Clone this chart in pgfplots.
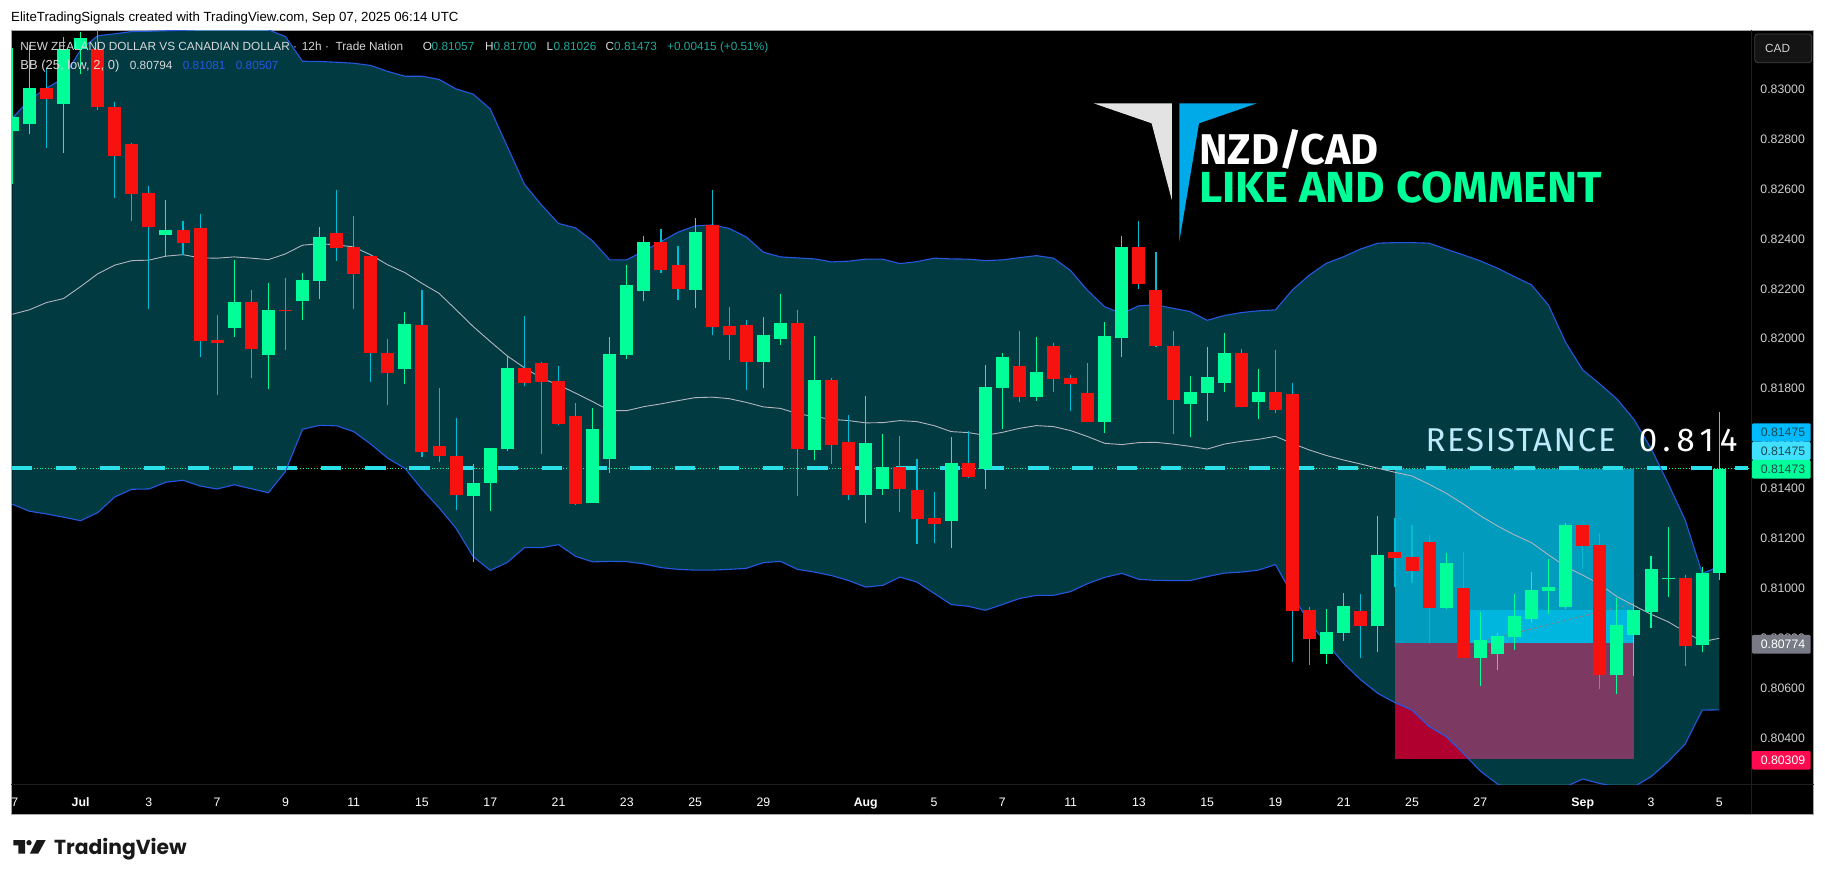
\documentclass[border=0pt]{standalone}
\usepackage{fontspec}
\setmainfont{Liberation Sans}
\newfontfamily\logofont{Fira Sans}
\newfontfamily\resfontA[LetterSpace=5]{Fira Sans}
\newfontfamily\resfontB[LetterSpace=18]{Fira Sans}
\newfontfamily\tvfont{Poppins}
\usepackage{pgfplots}
\usepackage{pgfplotstable}
\pgfplotsset{compat=1.18}
\definecolor{upc}{HTML}{00FF99}
\definecolor{downc}{HTML}{F7120F}
\definecolor{downw}{HTML}{00BCD4}
\definecolor{bandc}{RGB}{7,193,220}
\definecolor{bbline}{HTML}{2458E0}
\definecolor{midc}{HTML}{B2B5BE}
\definecolor{hdr}{HTML}{D8D8D8}
\definecolor{teal}{HTML}{1FA99B}
\definecolor{tick}{HTML}{D0D0D0}
\definecolor{zoneb}{HTML}{009BBD}
\definecolor{zonel}{HTML}{00B5DE}
\definecolor{zoner}{HTML}{B00030}
\definecolor{resl}{HTML}{2BDFE8}
\definecolor{tagd}{HTML}{174A50}
\definecolor{tagb}{HTML}{00BBFF}
\definecolor{tagc}{HTML}{40E0FF}
\definecolor{tagg}{HTML}{787B86}
\definecolor{tagr}{HTML}{FF0A4E}
\definecolor{lgb}{HTML}{00A9E8}
\pgfplotstableread{
k o h l c
0 0.82828 0.83158 0.82613 0.82883
1 0.82856 0.83172 0.82816 0.82999
3 0.82933 0.83205 0.82740 0.83154
4 0.83154 0.83222 0.83053 0.83200
9 0.82410 0.82550 0.82323 0.82430
13 0.82037 0.82310 0.82001 0.82142
15 0.81927 0.82216 0.81794 0.82110
17 0.82147 0.82257 0.82069 0.82230
18 0.82226 0.82441 0.82154 0.82402
23 0.81873 0.82102 0.81813 0.82053
27 0.81364 0.81492 0.81101 0.81416
28 0.81416 0.81556 0.81305 0.81556
29 0.81552 0.81925 0.81546 0.81877
34 0.81337 0.81717 0.81337 0.81633
35 0.81512 0.82001 0.81455 0.81933
36 0.81929 0.82290 0.81913 0.82210
37 0.82186 0.82406 0.82146 0.82382
40 0.82190 0.82478 0.82118 0.82422
44 0.81901 0.82081 0.81797 0.82009
45 0.81993 0.82174 0.81969 0.82057
47 0.81548 0.82005 0.81508 0.81829
50 0.81368 0.81765 0.81256 0.81576
51 0.81392 0.81613 0.81368 0.81480
55 0.81264 0.81599 0.81156 0.81496
57 0.81472 0.81889 0.81392 0.81801
58 0.81797 0.81937 0.81633 0.81921
60 0.81761 0.82001 0.81745 0.81861
64 0.81661 0.82061 0.81617 0.82005
65 0.81997 0.82406 0.81921 0.82362
69 0.81733 0.81845 0.81601 0.81781
70 0.81777 0.81961 0.81665 0.81841
71 0.81817 0.82017 0.81781 0.81937
73 0.81741 0.81873 0.81673 0.81781
77 0.80731 0.80911 0.80691 0.80819
78 0.80815 0.80975 0.80783 0.80923
80 0.80843 0.81284 0.80739 0.81128
84 0.80915 0.81136 0.80911 0.81096
86 0.80715 0.80899 0.80603 0.80787
87 0.80731 0.80815 0.80667 0.80803
88 0.80799 0.80971 0.80747 0.80883
89 0.80871 0.81059 0.80855 0.80987
90 0.80983 0.81112 0.80891 0.80999
91 0.80919 0.81256 0.80911 0.81248
94 0.80647 0.80955 0.80570 0.80847
95 0.80807 0.80934 0.80643 0.80907
96 0.80899 0.81124 0.80835 0.81071
97 0.81031 0.81240 0.80959 0.81035
99 0.80767 0.81080 0.80739 0.81055
100 0.81057 0.81700 0.81026 0.81473
}\upcandles
\pgfplotstableread{
k o h l c
2 0.82999 0.83078 0.82760 0.82953
5 0.83154 0.83230 0.82911 0.82921
6 0.82923 0.82942 0.82560 0.82728
7 0.82775 0.82778 0.82464 0.82576
8 0.82577 0.82607 0.82114 0.82440
10 0.82430 0.82466 0.82330 0.82378
11 0.82438 0.82494 0.81919 0.81985
12 0.81989 0.82090 0.81770 0.81977
14 0.82142 0.82190 0.81837 0.81951
16 0.82110 0.82238 0.81947 0.82106
19 0.82418 0.82591 0.82306 0.82358
20 0.82362 0.82486 0.82114 0.82254
21 0.82326 0.82326 0.81821 0.81935
22 0.81937 0.81993 0.81729 0.81858
24 0.82049 0.82190 0.81522 0.81542
25 0.81564 0.81797 0.81502 0.81526
26 0.81524 0.81677 0.81308 0.81368
30 0.81877 0.82086 0.81805 0.81818
31 0.81897 0.81901 0.81532 0.81822
32 0.81825 0.81885 0.81650 0.81654
33 0.81685 0.81737 0.81328 0.81333
38 0.82382 0.82434 0.82258 0.82270
39 0.82290 0.82366 0.82150 0.82194
41 0.82450 0.82591 0.82009 0.82041
42 0.82045 0.82122 0.81909 0.82009
43 0.82049 0.82069 0.81789 0.81901
46 0.82057 0.82110 0.81364 0.81552
48 0.81829 0.81837 0.81492 0.81568
49 0.81580 0.81689 0.81348 0.81368
52 0.81480 0.81605 0.81300 0.81392
53 0.81388 0.81512 0.81172 0.81272
54 0.81276 0.81380 0.81176 0.81252
56 0.81496 0.81625 0.81436 0.81440
59 0.81885 0.82025 0.81741 0.81761
61 0.81965 0.81977 0.81781 0.81833
62 0.81837 0.81849 0.81705 0.81813
63 0.81777 0.81897 0.81661 0.81661
66 0.82362 0.82466 0.82194 0.82214
67 0.82190 0.82342 0.81961 0.81965
68 0.81965 0.82025 0.81613 0.81749
72 0.81937 0.81953 0.81721 0.81721
74 0.81781 0.81949 0.81697 0.81709
75 0.81773 0.81817 0.80700 0.80903
76 0.80907 0.80919 0.80687 0.80791
79 0.80903 0.80971 0.80715 0.80843
81 0.81140 0.81276 0.80999 0.81116
82 0.81120 0.81248 0.81015 0.81063
83 0.81180 0.81208 0.80775 0.80917
85 0.80995 0.81140 0.80716 0.80716
92 0.81248 0.81252 0.81071 0.81164
93 0.81168 0.81216 0.80591 0.80647
98 0.81035 0.81047 0.80683 0.80763
}\downcandles
\pgfplotstableread{
k up mid lo
0 0.82878 0.82092 0.81331
1 0.82951 0.82110 0.81303
2 0.82998 0.82139 0.81292
3 0.83038 0.82155 0.81279
4 0.83152 0.82203 0.81265
5 0.83208 0.82254 0.81297
6 0.83216 0.82289 0.81360
7 0.83225 0.82307 0.81391
8 0.83226 0.82309 0.81392
9 0.83228 0.82325 0.81419
10 0.83230 0.82331 0.81427
11 0.83232 0.82318 0.81404
12 0.83232 0.82317 0.81392
13 0.83232 0.82322 0.81409
14 0.83232 0.82317 0.81393
15 0.83232 0.82311 0.81377
16 0.83205 0.82334 0.81462
17 0.83106 0.82369 0.81631
18 0.83105 0.82375 0.81647
19 0.83102 0.82370 0.81645
20 0.83098 0.82362 0.81622
21 0.83089 0.82330 0.81572
22 0.83065 0.82290 0.81515
23 0.83046 0.82259 0.81475
24 0.83046 0.82216 0.81391
25 0.83033 0.82176 0.81317
26 0.82995 0.82110 0.81234
27 0.82974 0.82043 0.81121
28 0.82915 0.81983 0.81066
29 0.82764 0.81925 0.81098
30 0.82613 0.81878 0.81157
31 0.82530 0.81836 0.81157
32 0.82456 0.81809 0.81169
33 0.82438 0.81776 0.81122
34 0.82386 0.81742 0.81100
35 0.82310 0.81706 0.81102
36 0.82310 0.81706 0.81101
37 0.82346 0.81722 0.81092
38 0.82383 0.81733 0.81077
39 0.82421 0.81746 0.81070
40 0.82446 0.81758 0.81067
41 0.82450 0.81760 0.81067
42 0.82436 0.81754 0.81070
43 0.82402 0.81739 0.81074
44 0.82341 0.81721 0.81097
45 0.82322 0.81715 0.81102
46 0.82318 0.81694 0.81070
47 0.82314 0.81682 0.81059
48 0.82302 0.81671 0.81045
49 0.82305 0.81666 0.81025
50 0.82313 0.81657 0.80999
51 0.82313 0.81658 0.81006
52 0.82295 0.81666 0.81039
53 0.82303 0.81662 0.81019
54 0.82317 0.81646 0.80974
55 0.82314 0.81622 0.80929
56 0.82313 0.81618 0.80922
57 0.82307 0.81607 0.80906
58 0.82310 0.81619 0.80929
59 0.82319 0.81635 0.80953
60 0.82327 0.81646 0.80966
61 0.82317 0.81642 0.80966
62 0.82267 0.81626 0.80981
63 0.82187 0.81602 0.81013
64 0.82122 0.81575 0.81038
65 0.82095 0.81570 0.81054
66 0.82126 0.81578 0.81030
67 0.82130 0.81579 0.81026
68 0.82116 0.81572 0.81025
69 0.82103 0.81563 0.81025
70 0.82068 0.81552 0.81041
71 0.82087 0.81572 0.81055
72 0.82099 0.81583 0.81059
73 0.82106 0.81591 0.81067
74 0.82110 0.81603 0.81089
75 0.82190 0.81574 0.80967
76 0.82250 0.81548 0.80854
77 0.82297 0.81526 0.80774
78 0.82323 0.81508 0.80693
79 0.82354 0.81492 0.80627
80 0.82377 0.81475 0.80573
81 0.82379 0.81459 0.80536
82 0.82379 0.81444 0.80506
83 0.82377 0.81411 0.80440
84 0.82353 0.81375 0.80400
85 0.82330 0.81332 0.80333
86 0.82306 0.81285 0.80262
87 0.82277 0.81244 0.80210
88 0.82243 0.81208 0.80179
89 0.82210 0.81177 0.80159
90 0.82128 0.81128 0.80152
91 0.81979 0.81081 0.80199
92 0.81869 0.81047 0.80230
93 0.81813 0.81010 0.80212
94 0.81753 0.80961 0.80199
95 0.81671 0.80925 0.80199
96 0.81555 0.80890 0.80239
97 0.81415 0.80860 0.80299
98 0.81268 0.80820 0.80370
99 0.81054 0.80780 0.80506
100 0.81081 0.80794 0.80507
}\bbands
\newcommand{\txt}[5]{\node[anchor=base west,inner sep=0pt,text=#1,font=\fontsize{#2}{#2}\selectfont] at (#3,881-#4) {#5};}
\newcommand{\tagbox}[5]{\fill[#1,rounded corners=1.2pt] (1752,881-#2) rectangle (1810.6,881-#3);
 \node[text=#4,inner sep=0pt,font=\fontsize{12.3}{13}\selectfont] at (1783,881-0.5*#2-0.5*#3) {#5};}
\begin{document}
\begin{tikzpicture}[x=1pt,y=1pt]
\fill[white] (0,0) rectangle (1825,881);
\fill[black] (11,67) rectangle (1813.8,851);
\draw[line width=0.9pt,color=black!35] (11,67) rectangle (1813.8,851);
\draw[line width=0.7pt,color=black!88!white] (1751.2,67) -- (1751.2,851);
\draw[line width=0.7pt,color=black!88!white] (11,97) -- (1813.8,97);
\begin{axis}[
  at={(11.5pt,97pt)},anchor=south west,
  width=1739.7pt,height=753.7pt,scale only axis,
  xmin=-0.047,xmax=101.87,ymin=0.80210,ymax=0.83230,
  axis line style={draw=none},
  tick style={draw=none},major tick length=0pt,
  scaled y ticks=false,
  ytick={0.804,0.806,0.808,0.810,0.812,0.814,0.816,0.818,0.820,0.822,0.824,0.826,0.828,0.830},
  yticklabel pos=right,
  yticklabel style={/pgf/number format/fixed,/pgf/number format/zerofill,/pgf/number format/precision=5,/pgf/number format/assume math mode=true,text=tick,font=\fontsize{12.3}{13}\selectfont,inner sep=0pt,xshift=9pt,yshift=-1.5pt},
  xtick={0.14,4,8,12,16,20,24,28,32,36,40,44,50,54,58,62,66,70,74,78,82,86,92,96,100},
  xticklabels={7,\textbf{Jul},3,7,9,11,15,17,21,23,25,29,\textbf{Aug},5,7,11,13,15,19,21,25,27,\textbf{Sep},3,5},
  xticklabel style={text=white,font=\fontsize{12.3}{13}\selectfont,inner sep=0pt,yshift=-13.5pt},
]
\addplot[fill=zoner,draw=none,forget plot] coordinates {(81,0.80774)(95.03,0.80774)(95.03,0.80309)(81,0.80309)} --cycle;
\addplot[fill=bandc,fill opacity=0.3,draw=none,forget plot] coordinates {
(0,0.82878)(1,0.82951)(2,0.82998)(3,0.83038)(4,0.83152)(5,0.83208)(6,0.83216)(7,0.83225)(8,0.83226)(9,0.83228)
(10,0.83230)(11,0.83232)(12,0.83232)(13,0.83232)(14,0.83232)(15,0.83232)(16,0.83205)(17,0.83106)(18,0.83105)(19,0.83102)
(20,0.83098)(21,0.83089)(22,0.83065)(23,0.83046)(24,0.83046)(25,0.83033)(26,0.82995)(27,0.82974)(28,0.82915)(29,0.82764)
(30,0.82613)(31,0.82530)(32,0.82456)(33,0.82438)(34,0.82386)(35,0.82310)(36,0.82310)(37,0.82346)(38,0.82383)(39,0.82421)
(40,0.82446)(41,0.82450)(42,0.82436)(43,0.82402)(44,0.82341)(45,0.82322)(46,0.82318)(47,0.82314)(48,0.82302)(49,0.82305)
(50,0.82313)(51,0.82313)(52,0.82295)(53,0.82303)(54,0.82317)(55,0.82314)(56,0.82313)(57,0.82307)(58,0.82310)(59,0.82319)
(60,0.82327)(61,0.82317)(62,0.82267)(63,0.82187)(64,0.82122)(65,0.82095)(66,0.82126)(67,0.82130)(68,0.82116)(69,0.82103)
(70,0.82068)(71,0.82087)(72,0.82099)(73,0.82106)(74,0.82110)(75,0.82190)(76,0.82250)(77,0.82297)(78,0.82323)(79,0.82354)
(80,0.82377)(81,0.82379)(82,0.82379)(83,0.82377)(84,0.82353)(85,0.82330)(86,0.82306)(87,0.82277)(88,0.82243)(89,0.82210)
(90,0.82128)(91,0.81979)(92,0.81869)(93,0.81813)(94,0.81753)(95,0.81671)(96,0.81555)(97,0.81415)(98,0.81268)(99,0.81054)(100,0.81081)
(100,0.80507)(99,0.80506)(98,0.80370)(97,0.80299)(96,0.80239)(95,0.80199)(94,0.80199)(93,0.80212)(92,0.80230)(91,0.80199)
(90,0.80152)(89,0.80159)(88,0.80179)(87,0.80210)(86,0.80262)(85,0.80333)(84,0.80400)(83,0.80440)(82,0.80506)(81,0.80536)
(80,0.80573)(79,0.80627)(78,0.80693)(77,0.80774)(76,0.80854)(75,0.80967)(74,0.81089)(73,0.81067)(72,0.81059)(71,0.81055)
(70,0.81041)(69,0.81025)(68,0.81025)(67,0.81026)(66,0.81030)(65,0.81054)(64,0.81038)(63,0.81013)(62,0.80981)(61,0.80966)
(60,0.80966)(59,0.80953)(58,0.80929)(57,0.80906)(56,0.80922)(55,0.80929)(54,0.80974)(53,0.81019)(52,0.81039)(51,0.81006)
(50,0.80999)(49,0.81025)(48,0.81045)(47,0.81059)(46,0.81070)(45,0.81102)(44,0.81097)(43,0.81074)(42,0.81070)(41,0.81067)
(40,0.81067)(39,0.81070)(38,0.81077)(37,0.81092)(36,0.81101)(35,0.81102)(34,0.81100)(33,0.81122)(32,0.81169)(31,0.81157)
(30,0.81157)(29,0.81098)(28,0.81066)(27,0.81121)(26,0.81234)(25,0.81317)(24,0.81391)(23,0.81475)(22,0.81515)(21,0.81572)
(20,0.81622)(19,0.81645)(18,0.81647)(17,0.81631)(16,0.81462)(15,0.81377)(14,0.81393)(13,0.81409)(12,0.81392)(11,0.81404)
(10,0.81427)(9,0.81419)(8,0.81392)(7,0.81391)(6,0.81360)(5,0.81297)(4,0.81265)(3,0.81279)(2,0.81292)(1,0.81303)(0,0.81331)
} --cycle;
\addplot[fill=zoneb,draw=none,forget plot] coordinates {(81,0.81473)(95.03,0.81473)(95.03,0.80774)(81,0.80774)} --cycle;
\addplot[fill=zonel,draw=none,forget plot] coordinates {(85.4,0.80907)(95.03,0.80907)(95.03,0.80774)(85.4,0.80774)} --cycle;
\addplot[color=gray,dashed,line width=1pt,forget plot] coordinates {(86.4,0.80787)(95,0.80934)};
\addplot[color=upc,dotted,line width=0.8pt,forget plot] coordinates {(-0.047,0.81473)(101.68,0.81473)};
\addplot[color=resl,line width=3.6pt,dash pattern=on 20.5pt off 23.7pt,forget plot] coordinates {(-0.047,0.81475)(101.68,0.81475)};
\addplot[color=midc,line width=0.9pt,forget plot] table[x=k,y=mid] {\bbands};
\addplot[color=bbline,line width=1.1pt,forget plot] table[x=k,y=up] {\bbands};
\addplot[color=bbline,line width=1.1pt,forget plot] table[x=k,y=lo] {\bbands};
\node[anchor=west,inner sep=0pt,text=cyan!25!white,font=\resfontA\fontsize{33}{33}\selectfont] at (axis cs:82.78,0.81586) {RESISTANCE};
\node[anchor=west,inner sep=0pt,text=white,font=\resfontB\fontsize{33}{33}\selectfont] at (axis cs:95.27,0.81586) {0.814};
\addplot[draw=none,mark=none,forget plot,error bars/.cd,y dir=plus,y explicit,error mark=none,error bar style={color=downw,line width=1.1pt}]
 table[x=k,y=l,y error plus expr=\thisrow{h}-\thisrow{l}] {\downcandles};
\addplot[draw=none,mark=none,forget plot,error bars/.cd,y dir=plus,y explicit,error mark=none,error bar style={color=upc,line width=1.1pt}]
 table[x=k,y=l,y error plus expr=\thisrow{h}-\thisrow{l}] {\upcandles};
\addplot[draw=none,mark=none,forget plot,error bars/.cd,y dir=plus,y explicit,error mark=none,error bar style={color=downc,line width=13pt}]
 table[x=k,y=c,y error plus expr=\thisrow{o}-\thisrow{c}] {\downcandles};
\addplot[draw=none,mark=none,forget plot,error bars/.cd,y dir=plus,y explicit,error mark=none,error bar style={color=upc,line width=13pt}]
 table[x=k,y=o,y error plus expr=\thisrow{c}-\thisrow{o}] {\upcandles};
\end{axis}
\txt{black}{13.25}{11}{21.2}{EliteTradingSignals created with TradingView.com, Sep 07, 2025 06:14 UTC}
\txt{hdr}{11.8}{20.2}{51}{NEW ZEALAND DOLLAR VS CANADIAN DOLLAR}
\txt{hdr}{11.8}{293}{51}{·}
\txt{hdr}{11.8}{301.7}{51}{12h}
\txt{hdr}{11.8}{325}{51}{·}
\txt{hdr}{11.8}{335.3}{51}{Trade Nation}
\txt{hdr}{11.8}{422.7}{51}{O}
\txt{teal}{11.8}{431.5}{51}{0.81057}
\txt{hdr}{11.8}{484.8}{51}{H}
\txt{teal}{11.8}{493.5}{51}{0.81700}
\txt{hdr}{11.8}{546.5}{51}{L}
\txt{teal}{11.8}{553.5}{51}{0.81026}
\txt{hdr}{11.8}{605.4}{51}{C}
\txt{teal}{11.8}{614}{51}{0.81473}
\txt{teal}{11.8}{667}{51}{+0.00415 (+0.51\%)}
\txt{hdr}{13}{20.2}{70}{BB (25, low, 2, 0)}
\txt{hdr}{11.8}{129.7}{70}{0.80794}
\txt{bbline}{11.8}{182.7}{70}{0.81081}
\txt{bbline}{11.8}{235.7}{70}{0.80507}
\fill[black!11] (1093.5,881-103.3) -- (1171.8,881-103.3) -- (1171.8,881-200) -- (1151.6,881-123.3) -- cycle;
\fill[lgb] (1179.3,881-103.3) -- (1257,881-103.3) -- (1199,881-123.3) -- (1179.3,881-241.7) -- cycle;
\node[anchor=base west,inner sep=0pt,text=white,font=\logofont\bfseries\fontsize{43}{43}\selectfont] at (1199,881-165) {NZD/CAD};
\node[anchor=base west,inner sep=0pt,xscale=1.043,text=upc,font=\logofont\bfseries\fontsize{43.5}{44}\selectfont] at (1199,881-202.7) {LIKE AND COMMENT};
\draw[fill=black!92!white,draw=black!75!white,rounded corners=3pt,line width=0.8pt] (1754.8,881-34) rectangle (1811.8,881-62.7);
\txt{tick}{11.8}{1765}{53}{CAD}
\tagbox{tagb}{423.3}{441.7}{tagd}{0.81475}
\tagbox{tagc}{441.7}{460}{tagd}{0.81475}
\tagbox{upc}{460}{478.7}{tagd}{0.81473}
\tagbox{tagg}{635}{653.7}{white}{0.80774}
\tagbox{tagr}{751}{769.7}{white}{0.80309}
\fill[black!90] (13.3,881-840) -- (25,881-840) -- (25,881-853.5) -- (18.3,881-853.5) -- (18.3,881-845.3) -- (13.3,881-845.3) -- cycle;
\fill[black!90] (29,881-842.7) circle (2.7);
\fill[black!90] (36.7,881-840) -- (45.7,881-840) -- (38.3,881-853.5) -- (30,881-853.5) -- cycle;
\node[anchor=base west,inner sep=0pt,text=black!90,font=\tvfont\bfseries\fontsize{20.3}{20}\selectfont] at (54,881-854) {TradingView};
\end{tikzpicture}
\end{document}
